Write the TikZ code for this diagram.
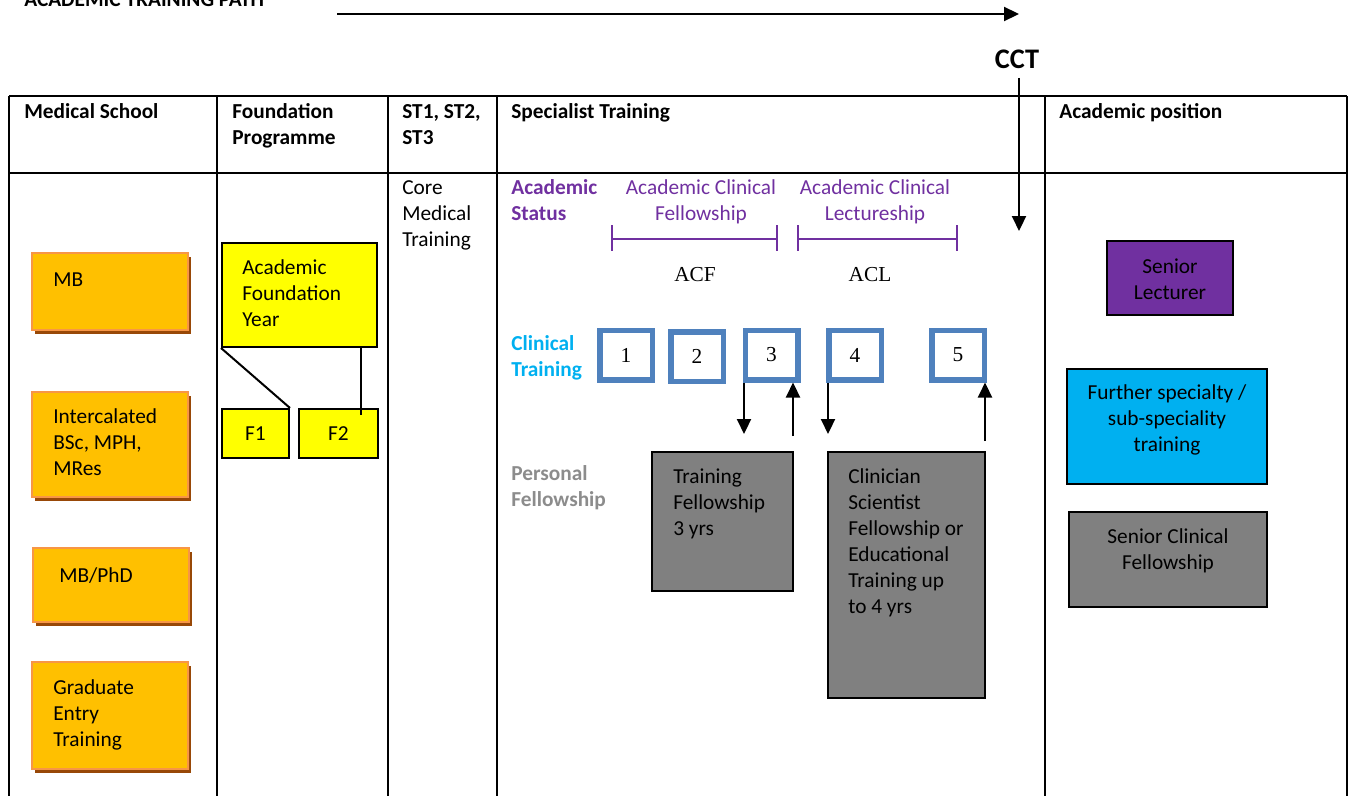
\documentclass[tikz,border=0pt]{standalone}
\usepackage{fontspec}
\setmainfont{Carlito}
\newfontfamily\serifface{Liberation Serif}
\usetikzlibrary{arrows.meta,calc}
\definecolor{acpurple}{HTML}{7030A0}
\definecolor{accyan}{HTML}{00B0F0}
\definecolor{boxblue}{HTML}{4F81BD}
\definecolor{orfill}{HTML}{FFC000}
\definecolor{orborder}{HTML}{F79646}
\definecolor{orshadow}{HTML}{984807}
\definecolor{ylw}{HTML}{FFFF00}
\definecolor{gbox}{HTML}{808080}
\definecolor{gtext}{HTML}{8C8C8C}
\begin{document}
\begin{tikzpicture}[x=0.6pt,y=-0.6pt,
  font=\fontsize{12.8pt}{15.6pt}\selectfont,
  txt/.style={inner sep=0, align=left, anchor=base west},
  ctxt/.style={inner sep=0, align=center, anchor=base},
  tab/.style={line width=1.3pt},
  arr/.style={line width=1.3pt, -{Triangle[width=8.4pt,length=9pt]}},
  obox/.style={draw=orborder, line width=1.2pt, fill=orfill, minimum width=93.6pt, inner sep=0,
     preaction={fill=orshadow, transform canvas={shift={(2pt,-2.4pt)}}}},
  ybox/.style={draw=black, line width=1.2pt, fill=ylw, inner sep=0},
  gybox/.style={draw=black, line width=1.2pt, fill=gbox, inner sep=0},
  numbox/.style={draw=boxblue, line width=3.3pt, fill=white, minimum width=31.5pt, minimum height=29.7pt,
     inner sep=0, font=\serifface\fontsize{12.8pt}{15.6pt}\selectfont},
  bar/.style={draw=acpurple, line width=0.9pt}]
\useasboundingbox (0,0) rectangle (1349,796);

% title and top arrow
\node[txt, font=\bfseries\fontsize{12.8pt}{15.6pt}\selectfont] (title) at (24,7) {ACADEMIC TRAINING PATH};
\coordinate (pathstart) at (337,14);
\coordinate (pathend) at (1019,14);
\draw[arr] (pathstart) -- (pathend);

% CCT
\node[inner sep=0, font=\bfseries\fontsize{17pt}{20pt}\selectfont] (cct) at (1017,59) {CCT};
\coordinate (ccttop) at (1019,78);
\coordinate (cctend) at (1019,231);
\draw[arr] (ccttop) -- (cctend);

% table
\draw[tab] (9,96) -- (1347,96);
\draw[tab] (9,173) -- (1347,173);
\foreach \xx in {9,217,388,497,1045,1347} {\draw[tab] (\xx,96) -- (\xx,796);}

% headers (base anchor = last line baseline)
\begin{scope}[every node/.append style={font=\bfseries\fontsize{12.8pt}{15.6pt}\selectfont}]
\node[txt] (h1) at (24,118) {Medical School};
\node[txt] (h2) at (232,144) {Foundation\\Programme};
\node[txt] (h3) at (402,144) {ST1, ST2,\\ST3};
\node[txt] (h4) at (511,118) {Specialist Training};
\node[txt] (h5) at (1059,118) {Academic position};
\end{scope}

% medical school boxes
\node[obox, minimum height=46.2pt] (mb) at (110,291.5) {};
\node[txt] (mbt) at (53,286) {MB};
\node[obox, minimum height=63pt] (ic) at (110,444.5) {};
\node[txt] (ict) at (53,475) {Intercalated\\BSc, MPH,\\MRes};
\node[obox, minimum height=44.4pt] (phd) at (110.5,585) {};
\node[txt] (phdt) at (59,582) {MB/PhD};
\node[obox, minimum height=64.2pt] (ge) at (110,715.5) {};
\node[txt] (get) at (53,746) {Graduate\\Entry\\Training};

% foundation
\node[ybox, minimum width=93pt, minimum height=62.4pt] (afy) at (299.5,295) {};
\node[txt] (afyt) at (242,326) {Academic\\Foundation\\Year};
\node[ybox, minimum width=40.2pt, minimum height=29.4pt] (f1) at (255.5,433.5) {F1};
\node[ybox, minimum width=47.4pt, minimum height=29.4pt] (f2) at (338.5,433.5) {F2};
\coordinate (f2in) at (361,415);
\draw[line width=1.2pt] (afy.south west) -- (f1.north east);
\draw[line width=1.2pt] (f2in |- afy.south) -- (f2in);

% core medical training
\node[txt] (cmt) at (402,246) {Core\\Medical\\Training};

% specialist training
\node[txt, text=acpurple, font=\bfseries\fontsize{12.8pt}{15.6pt}\selectfont] (acst) at (511,220) {Academic\\Status};
\node[ctxt, text=acpurple] (acf) at (701,220) {Academic Clinical\\Fellowship};
\node[ctxt, text=acpurple] (acl) at (875,220) {Academic Clinical\\Lectureship};
\draw[bar] (612,239) -- (777,239);
\draw[bar] (612,225) -- (612,251);
\draw[bar] (777,225) -- (777,251);
\draw[bar] (798,239) -- (957,239);
\draw[bar] (798,225) -- (798,251);
\draw[bar] (957,225) -- (957,251);
\node[ctxt, font=\serifface\fontsize{12.8pt}{15.6pt}\selectfont] (acfab) at (695,281) {ACF};
\node[ctxt, font=\serifface\fontsize{12.8pt}{15.6pt}\selectfont] (aclab) at (870,281) {ACL};

\node[txt, text=accyan, font=\bfseries\fontsize{12.8pt}{15.6pt}\selectfont] (clt) at (511,376) {Clinical\\Training};
\node[numbox] (n1) at (626,355) {1};
\node[numbox] (n2) at (697,356.5) {2};
\node[numbox] (n3) at (771.5,355) {3};
\node[numbox] (n4) at (855,355) {4};
\node[numbox] (n5) at (958,355) {5};

\coordinate (d1) at (744,434);
\coordinate (u1) at (793,436);
\coordinate (d2) at (828,434);
\coordinate (u2) at (985,441);
\draw[arr] (d1 |- n3.south) -- (d1);
\draw[arr] (u1) -- (u1 |- n3.south);
\draw[arr] (d2 |- n4.south) -- (d2);
\draw[arr] (u2) -- (u2 |- n5.south);

\node[txt, text=gtext, font=\bfseries\fontsize{12.8pt}{15.6pt}\selectfont] (pf) at (511,506) {Personal\\Fellowship};
\node[gybox, minimum width=84.6pt, minimum height=83.4pt] (tf) at (722.5,521.5) {};
\node[txt] (tft) at (673,535) {Training\\Fellowship\\3 yrs};
\node[gybox, minimum width=94.2pt, minimum height=147.6pt] (cs) at (906.5,575) {};
\node[txt] (cst) at (848,613) {Clinician\\Scientist\\Fellowship or\\Educational\\Training up\\to 4 yrs};

% academic position
\node[gybox, fill=acpurple, minimum width=75.6pt, minimum height=44.4pt] (sl) at (1170,278) {};
\node[inner sep=0, align=center] (slt) at (1170,279) {Senior\\Lecturer};
\node[gybox, fill=accyan, minimum width=120pt, minimum height=69pt] (fs) at (1167,426.5) {};
\node[inner sep=0, align=center] (fst) at (1167,420) {Further specialty /\\sub-speciality\\training};
\node[gybox, minimum width=118.8pt, minimum height=57pt] (scf) at (1168,559.5) {};
\node[inner sep=0, align=center] (scft) at (1168,551) {Senior Clinical\\Fellowship};
\end{tikzpicture}
\end{document}
